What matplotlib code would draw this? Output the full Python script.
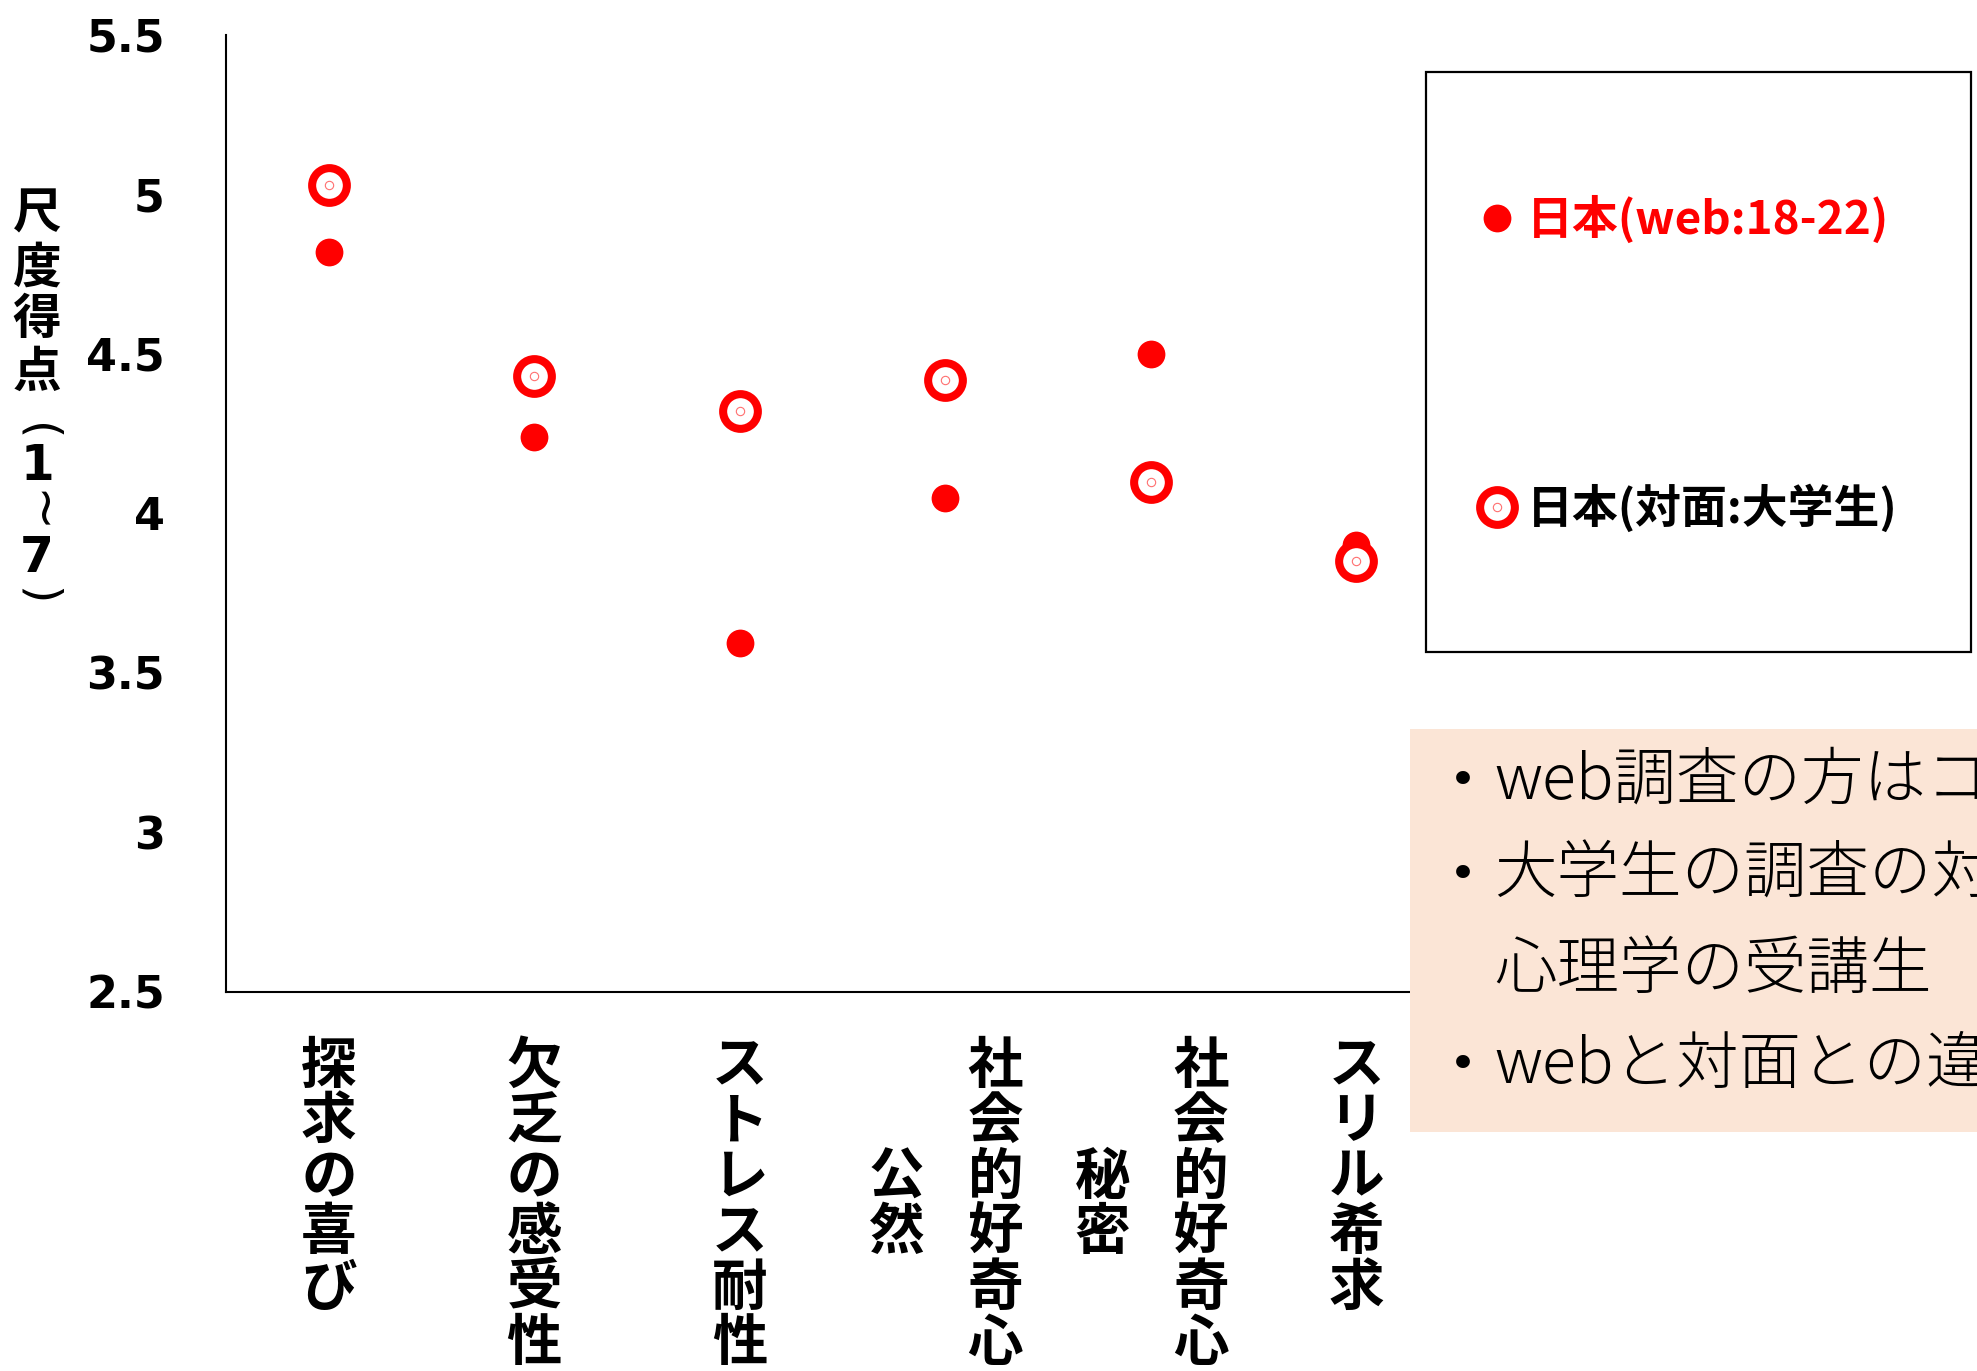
import matplotlib
matplotlib.use("Agg")
import matplotlib.pyplot as plt
from matplotlib.lines import Line2D
from matplotlib.patches import Rectangle

plt.rcParams['font.family'] = ['Noto Sans CJK JP', 'DejaVu Sans']

# 尺度ごとの平均得点
categories = ["探求の喜び", "欠乏の感受性", "ストレス耐性", "社会的好奇心", "社会的好奇心", "スリル希求"]
sub_labels = ["", "", "", "公然", "秘密", ""]
web_scores = [4.82, 4.24, 3.595, 4.05, 4.50, 3.90]
face_scores = [5.03, 4.43, 4.32, 4.42, 4.10, 3.85]
series_names = ["日本(web:18-22)", "日本(対面:大学生)"]
yticks = [2.5, 3, 3.5, 4, 4.5, 5, 5.5]
ytick_labels = ["2.5", "3", "3.5", "4", "4.5", "5", "5.5"]
note_lines = [("•", "web調査の方はコ"), ("•", "大学生の調査の対"), ("", "心理学の受講生"), ("•", "webと対面との違")]

RED = "#FF0000"
W, H = 1977, 1371

fig = plt.figure(figsize=(W / 100, H / 100), dpi=100)
ax = fig.add_axes([226 / W, 1 - 992 / H, (1459 - 226) / W, (992 - 35) / H])

x = list(range(1, len(categories) + 1))

# web調査: 塗りつぶし丸
ax.plot(x, web_scores, ls="none", marker="o", ms=20, mfc=RED, mec="none", clip_on=False, zorder=3)
# 対面調査: 二重丸
ax.plot(x, face_scores, ls="none", marker="o", ms=25, mfc="white", mec=RED, mew=5.8, clip_on=False, zorder=4)
ax.plot(x, face_scores, ls="none", marker="o", ms=6, mfc="white", mec="#FF7070", mew=0.8, clip_on=False, zorder=5)

ax.set_xlim(0.5, len(categories) + 0.5)
ax.set_ylim(2.5, 5.5)
ax.set_yticks(yticks)
ax.set_yticklabels(ytick_labels, fontfamily="DejaVu Sans", fontweight="bold", fontsize=32)
ax.tick_params(axis="y", length=0, pad=44)
ax.set_xticks([])
for s in ["top", "right"]:
    ax.spines[s].set_visible(False)
for s in ["left", "bottom"]:
    ax.spines[s].set_linewidth(1.5)
    ax.spines[s].set_color("black")


# 縦書きラベル
def vcolumn(xpos, text, dx, center_pt, size=40):
    n = len(text)
    top = center_pt - n * size / 2
    for i, ch in enumerate(text):
        cy = top + (i + 0.5) * size
        ax.annotate(ch, xy=(xpos, 0), xycoords=("data", "axes fraction"),
                    xytext=(dx, -cy - 0.38 * size), textcoords="offset points",
                    ha="center", va="baseline", fontsize=size, fontweight="bold",
                    annotation_clip=False)


for xi, main, sub in zip(x, categories, sub_labels):
    main_center = 30 + len(main) * 40 / 2
    if sub:
        vcolumn(xi, main, 36, main_center)
        vcolumn(xi, sub, -35, main_center)
    else:
        vcolumn(xi, main, 0, main_center)

# 縦軸タイトル（縦書き、括弧と波ダッシュは回転）
ylab_chars = ["尺", "度", "得", "点", "(", "1", "~", "7", ")"]
ylab_centers = [214, 268, 320, 372, 432, 466, 512, 558, 596]
for ch, cy in zip(ylab_chars, ylab_centers):
    if ch in "()":
        fig.text(37 / W, 1 - cy / H, ch, ha="center", va="center", fontsize=34,
                 family=["DejaVu Sans"], rotation=-90)
    elif ch == "~":
        fig.text(37 / W, 1 - cy / H, ch, ha="center", va="center", fontsize=38,
                 family=["DejaVu Sans"], rotation=-90)
    elif ch in "17":
        fig.text(37 / W, 1 - cy / H, ch, ha="center", va="center", fontsize=35,
                 fontweight="bold", family=["DejaVu Sans"])
    else:
        fig.text(37 / W, 1 - cy / H, ch, ha="center", va="center", fontsize=35,
                 fontweight="bold")

# 凡例
fig.add_artist(Rectangle((1426 / W, 1 - 652 / H), (1971 - 1426) / W, (652 - 72) / H,
                         transform=fig.transFigure, fill=False, ec="black", lw=1.6))
h_web = Line2D([], [], ls="none", marker="o", ms=20, mfc=RED, mec="none")
h_ring = Line2D([], [], ls="none", marker="o", ms=25, mfc="white", mec=RED, mew=5.8)
h_dot = Line2D([], [], ls="none", marker="o", ms=6, mfc="white", mec="#FF7070", mew=0.8)
leg = fig.legend([h_web, (h_ring, h_dot)], series_names, loc="upper left",
                 bbox_to_anchor=(1474 / W, 1 - 196 / H), frameon=False,
                 prop={"size": 33, "weight": "bold"}, labelspacing=5.25,
                 handlelength=1.0, handletextpad=0.15, borderpad=0, borderaxespad=0)
leg.get_texts()[0].set_color(RED)
leg.get_texts()[1].set_color("black")

# 補足のテキストボックス
fig.add_artist(Rectangle((1410 / W, 1 - 1132 / H), 600 / W, (1132 - 729) / H,
                         transform=fig.transFigure, fc="#FBE5D6", ec="none"))
line_y = [782, 876, 971, 1066]
for (bullet, txt), ly in zip(note_lines, line_y):
    if bullet:
        fig.text(1463 / W, 1 - ly / H, bullet, ha="center", va="center", fontsize=34,
                 family=["DejaVu Sans"])
    fig.text(1494 / W, 1 - ly / H, txt, ha="left", va="center", fontsize=45, fontweight=300)

fig.savefig("out.png", dpi=100)
